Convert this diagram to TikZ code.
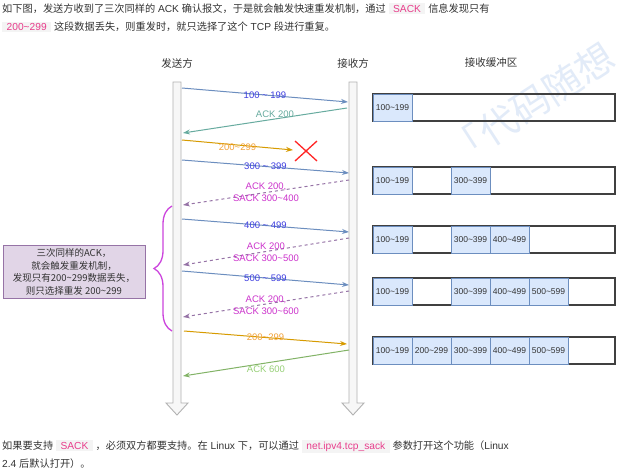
\documentclass[tikz,border=0pt]{standalone}
\usepackage{fontspec}
\setmainfont{Liberation Sans}
\newfontfamily\cjk{Noto Sans CJK SC}
\usetikzlibrary{arrows.meta,decorations.pathreplacing}

\definecolor{datablue}{HTML}{6C8EBF}
\definecolor{datatext}{HTML}{4040E0}
\definecolor{ackteal}{HTML}{67AB9F}
\definecolor{resend}{HTML}{D79B00}
\definecolor{resendtext}{HTML}{F2A23A}
\definecolor{sackline}{HTML}{9673A6}
\definecolor{sacktext}{HTML}{CC33CC}
\definecolor{ackgreen}{HTML}{82B366}
\definecolor{ackgreentext}{HTML}{97D077}
\definecolor{cellfill}{HTML}{DAE8FC}
\definecolor{notefill}{HTML}{E1D5E7}
\definecolor{bodytext}{HTML}{333333}
\definecolor{codefg}{HTML}{E83E8C}
\definecolor{codebg}{HTML}{F4F4F4}
\definecolor{bracecol}{HTML}{CC44DD}
\definecolor{watermark}{HTML}{E2EBF8}

\newcommand\tld{\textasciitilde}
\newcommand\codehl[1]{{\setlength{\fboxsep}{1.5pt}\colorbox{codebg}{\hspace{3pt}\textcolor{codefg}{#1}\hspace{3pt}}}}

\begin{document}
\begin{tikzpicture}[x=1pt, y=-1pt,
  txt/.style={anchor=base west, inner sep=0pt, text=bodytext, font=\fontsize{10.2}{12}\selectfont},
  title/.style={text=bodytext, font=\cjk\fontsize{10.5}{12}\selectfont},
  bar/.style={draw=black!30, fill=black!3, line width=0.9pt},
  msg/.style={line width=1pt, -{Stealth[length=7pt, width=5pt]}},
  data/.style={msg, draw=datablue},
  lbl/.style={inner sep=1pt, font=\fontsize{9.5}{12}\selectfont, align=center},
  buf/.style={draw=black!75, line width=1.3pt, minimum width=242pt, minimum height=27pt, anchor=north west, inner sep=0pt, outer sep=0pt},
  cell/.style={draw=datablue, fill=cellfill, line width=0.8pt, minimum width=39pt, minimum height=27pt, anchor=north west, inner sep=0pt, outer sep=0pt, text=bodytext, font=\fontsize{8.5}{9}\selectfont},
  note/.style={draw=sackline, fill=notefill, line width=0.6pt, minimum width=142pt, minimum height=52pt, align=center, text=bodytext, font=\cjk\fontsize{9.5}{12.5}\selectfont}]

  \useasboundingbox[fill=white] (0,0) rectangle (626,475);

  % watermark
  \node[rotate=33, anchor=west, text=watermark, font=\cjk\fontsize{38}{38}\selectfont] (wm) at (448,158) {「代码随想};

  % intro text
  \node[txt] (intro1) at (2,12) {{\cjk 如下图，发送方收到了三次同样的} ACK {\cjk 确认报文，于是就会触发快速重发机制，通过} \codehl{SACK} {\cjk 信息发现只有}};
  \node[txt] (intro2) at (2,30.5) {\codehl{200\tld299} {\cjk 这段数据丢失，则重发时，就只选择了这个} TCP {\cjk 段进行重复。}};

  % titles
  \node[title] (sendtitle) at (177,63) {发送方};
  \node[title] (recvtitle) at (353,63) {接收方};
  \node[title] (buftitle) at (491,63) {接收缓冲区};

  % time lines
  \draw[bar] (173,82) -- (181,82) -- (181,403) -- (188,403) -- (177,415) -- (166,403) -- (173,403) -- cycle;
  \draw[bar] (349,82) -- (357,82) -- (357,403) -- (364,403) -- (353,415) -- (342,403) -- (349,403) -- cycle;

  % end points on the time lines
  \coordinate (s1) at (182,88);   \coordinate (r1) at (348,102);
  \coordinate (r2) at (347,108);  \coordinate (s2) at (183,133);
  \coordinate (s3) at (182,140);  \coordinate (lost) at (293,150);
  \coordinate (s4) at (182,160);  \coordinate (r4) at (349,173);
  \coordinate (r5) at (349,180);  \coordinate (s5) at (183,205);
  \coordinate (s6) at (182,219);  \coordinate (r6) at (349,232);
  \coordinate (r7) at (349,238);  \coordinate (s7) at (183,265);
  \coordinate (s8) at (182,271);  \coordinate (r8) at (349,285);
  \coordinate (r9) at (349,291);  \coordinate (s9) at (183,317);
  \coordinate (s10) at (184,331); \coordinate (r10) at (347,344);
  \coordinate (r11) at (349,350); \coordinate (s11) at (183,376);

  % messages
  \draw[data] (s1) -- node[lbl, text=datatext] {100 \tld{} 199} (r1);
  \draw[msg, draw=ackteal] (r2) -- node[lbl, text=ackteal, xshift=10pt, yshift=6pt] {ACK 200} (s2);
  \draw[msg, draw=resend] (s3) -- node[lbl, text=resendtext, yshift=-2pt] {200\tld299} (lost);
  \draw[data] (s4) -- node[lbl, text=datatext] {300 \tld{} 399} (r4);
  \draw[msg, draw=sackline, dashed] (r5) -- node[lbl, text=sacktext] {ACK 200,\\SACK 300\tld400} (s5);
  \draw[data] (s6) -- node[lbl, text=datatext] {400 \tld{} 499} (r6);
  \draw[msg, draw=sackline, dashed] (r7) -- node[lbl, text=sacktext, yshift=-1pt] {ACK 200\\SACK 300\tld500} (s7);
  \draw[data] (s8) -- node[lbl, text=datatext] {500 \tld{} 599} (r8);
  \draw[msg, draw=sackline, dashed] (r9) -- node[lbl, text=sacktext, yshift=-1pt] {ACK 200,\\SACK 300\tld600} (s9);
  \draw[msg, draw=resend] (s10) -- node[lbl, text=resendtext] {200\tld299} (r10);
  \draw[msg, draw=ackgreen] (r11) -- node[lbl, text=ackgreentext, yshift=-6pt] {ACK 600} (s11);

  % lost segment
  \draw[red!85, line width=1.3pt] (295,141) -- (317,161) (295,161) -- (317,141);

  % receive buffers
  \node[buf] (buf1) at (373,94) {};
  \node[cell] (c11) at (373,94) {100\tld199};

  \node[buf] (buf2) at (373,167) {};
  \node[cell] (c21) at (373,167) {100\tld199};
  \node[cell] (c23) at (451,167) {300\tld399};

  \node[buf] (buf3) at (373,226) {};
  \node[cell] (c31) at (373,226) {100\tld199};
  \node[cell] (c33) at (451,226) {300\tld399};
  \node[cell] (c34) at (490,226) {400\tld499};

  \node[buf] (buf4) at (373,278) {};
  \node[cell] (c41) at (373,278) {100\tld199};
  \node[cell] (c43) at (451,278) {300\tld399};
  \node[cell] (c44) at (490,278) {400\tld499};
  \node[cell] (c45) at (529,278) {500\tld599};

  \node[buf] (buf5) at (373,337) {};
  \node[cell] (c51) at (373,337) {100\tld199};
  \node[cell] (c52) at (412,337) {200\tld299};
  \node[cell] (c53) at (451,337) {300\tld399};
  \node[cell] (c54) at (490,337) {400\tld499};
  \node[cell] (c55) at (529,337) {500\tld599};

  % three duplicate acks
  \draw[bracecol, line width=1.3pt, decorate, decoration={brace, amplitude=18pt}] (172,331) -- (172,206);
  \node[note] (hint) at (74,272) {三次同样的ACK，\\就会触发重发机制，\\发现只有200\tld299数据丢失，\\则只选择重发 200\tld299};

  % closing text
  \node[txt] (outro1) at (2,449) {{\cjk 如果要支持} \codehl{SACK} {\cjk ，必须双方都要支持。在} Linux {\cjk 下，可以通过} \codehl{net.ipv4.tcp\_sack} {\cjk 参数打开这个功能（}Linux};
  \node[txt] (outro2) at (2,467.5) {2.4 {\cjk 后默认打开）。}};
\end{tikzpicture}
\end{document}
